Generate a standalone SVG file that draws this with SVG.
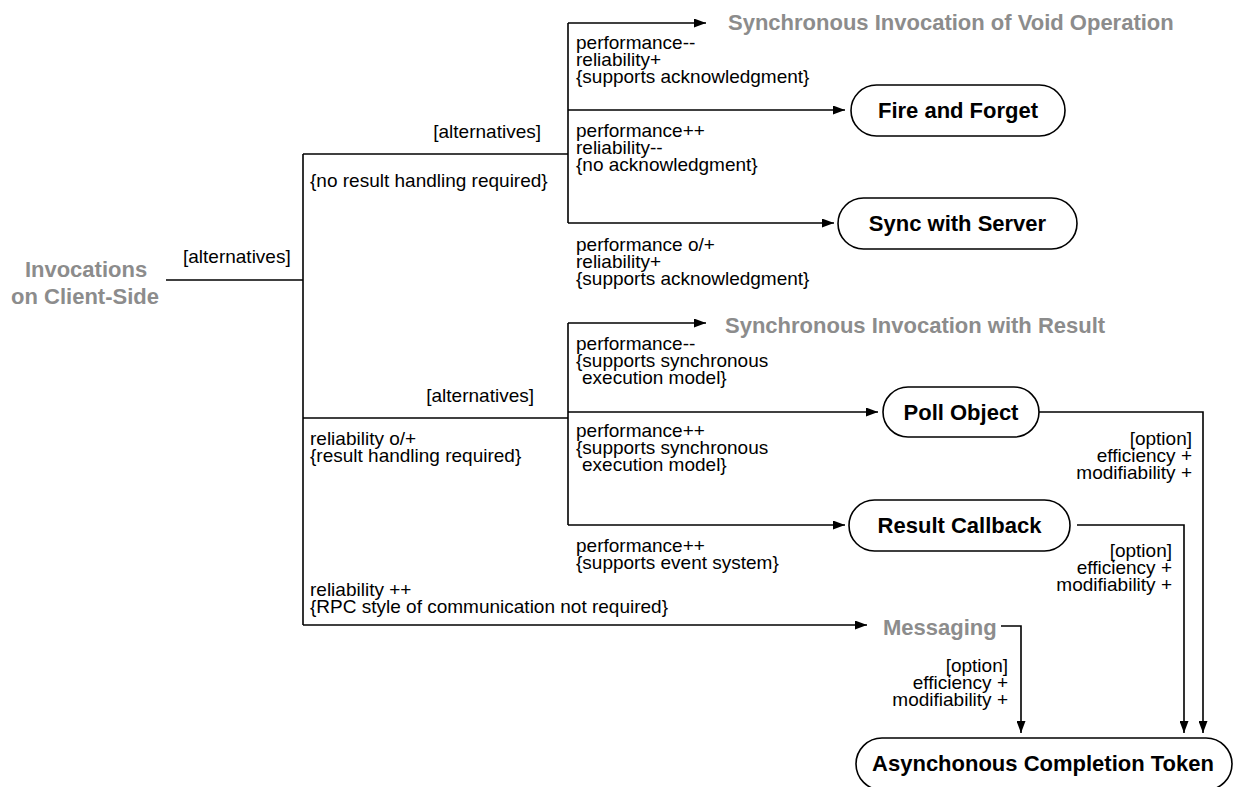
<svg xmlns="http://www.w3.org/2000/svg" width="1234" height="787" viewBox="0 0 1234 787">
  <defs>
    <marker id="arrow" markerUnits="userSpaceOnUse" markerWidth="12" markerHeight="9" refX="12" refY="4.5" orient="auto">
      <path d="M0,0 L12,4.5 L0,9 z" fill="#000"/>
    </marker>
    <style>
      text { font-family: "Liberation Sans", Arial, Helvetica, sans-serif; }
      .lbl { font-size: 19px; fill: #000; }
      .lbl-r { font-size: 19px; fill: #000; text-anchor: end; }
      .node-text { font-size: 22px; font-weight: bold; fill: #000; text-anchor: middle; }
      .ref-text { font-size: 22px; font-weight: bold; fill: #8c8c8c; }
      .box { fill: #fff; stroke: #000; stroke-width: 1.6; }
      .wire { fill: none; stroke: #000; stroke-width: 1.6; }
      .arrowed { marker-end: url(#arrow); }
    </style>
  </defs>
  <rect width="1234" height="787" fill="#fff"/>

  <!-- connectors -->
  <g id="connectors">
    <!-- root to first split -->
    <path class="wire" d="M166,280 H303"/>
    <path class="wire" d="M303,154 V625"/>
    <!-- no result handling branch -->
    <path class="wire" d="M303,154 H568"/>
    <path class="wire" d="M568,23 V223"/>
    <path class="wire arrowed" d="M568,23 H706"/>
    <path class="wire arrowed" d="M568,110 H845"/>
    <path class="wire arrowed" d="M568,223 H834"/>
    <!-- result handling branch -->
    <path class="wire" d="M303,418 H568"/>
    <path class="wire" d="M568,323 V525"/>
    <path class="wire arrowed" d="M568,323 H706"/>
    <path class="wire arrowed" d="M568,412 H878"/>
    <path class="wire arrowed" d="M568,525 H845"/>
    <!-- messaging branch -->
    <path class="wire arrowed" d="M303,625 H867"/>
    <!-- options towards completion token -->
    <path class="wire arrowed" d="M1039,412 H1203 V733"/>
    <path class="wire arrowed" d="M1077,525 H1184 V733"/>
    <path class="wire arrowed" d="M1001,626 H1021 V733"/>
  </g>

  <!-- connector labels -->
  <g id="labels">
    <text class="lbl" x="183" y="263">[alternatives]</text>
    <text class="lbl-r" x="541" y="138">[alternatives]</text>
    <text class="lbl" x="310" y="187">{no result handling required}</text>

    <text class="lbl" x="576" y="49">performance--</text>
    <text class="lbl" x="576" y="66">reliability+</text>
    <text class="lbl" x="576" y="83">{supports acknowledgment}</text>

    <text class="lbl" x="576" y="137">performance++</text>
    <text class="lbl" x="576" y="154">reliability--</text>
    <text class="lbl" x="576" y="171">{no acknowledgment}</text>

    <text class="lbl" x="576" y="251">performance o/+</text>
    <text class="lbl" x="576" y="268">reliability+</text>
    <text class="lbl" x="576" y="285">{supports acknowledgment}</text>

    <text class="lbl-r" x="534" y="402">[alternatives]</text>
    <text class="lbl" x="310" y="445">reliability o/+</text>
    <text class="lbl" x="310" y="462">{result handling required}</text>

    <text class="lbl" x="576" y="350">performance--</text>
    <text class="lbl" x="576" y="367">{supports synchronous</text>
    <text class="lbl" x="582" y="384">execution model}</text>

    <text class="lbl" x="576" y="437">performance++</text>
    <text class="lbl" x="576" y="454">{supports synchronous</text>
    <text class="lbl" x="582" y="471">execution model}</text>

    <text class="lbl" x="576" y="552">performance++</text>
    <text class="lbl" x="576" y="569">{supports event system}</text>

    <text class="lbl" x="310" y="596">reliability ++</text>
    <text class="lbl" x="310" y="613">{RPC style of communication not required}</text>

    <text class="lbl-r" x="1192" y="445">[option]</text>
    <text class="lbl-r" x="1192" y="462">efficiency +</text>
    <text class="lbl-r" x="1192" y="479">modifiability +</text>

    <text class="lbl-r" x="1172" y="557">[option]</text>
    <text class="lbl-r" x="1172" y="574">efficiency +</text>
    <text class="lbl-r" x="1172" y="591">modifiability +</text>

    <text class="lbl-r" x="1008" y="672">[option]</text>
    <text class="lbl-r" x="1008" y="689">efficiency +</text>
    <text class="lbl-r" x="1008" y="706">modifiability +</text>
  </g>

  <!-- nodes -->
  <g id="invocations-client-side">
    <text class="ref-text" x="86" y="277" text-anchor="middle">Invocations</text>
    <text class="ref-text" x="85" y="304" text-anchor="middle">on Client-Side</text>
  </g>

  <g id="sync-invocation-void">
    <text class="ref-text" x="728" y="30">Synchronous Invocation of Void Operation</text>
  </g>

  <g id="fire-and-forget">
    <rect class="box" x="851" y="85" width="214" height="51" rx="25.5"/>
    <text class="node-text" x="958" y="118">Fire and Forget</text>
  </g>

  <g id="sync-with-server">
    <rect class="box" x="838" y="198" width="239" height="51" rx="25.5"/>
    <text class="node-text" x="957.5" y="231">Sync with Server</text>
  </g>

  <g id="sync-invocation-result">
    <text class="ref-text" x="725" y="333">Synchronous Invocation with Result</text>
  </g>

  <g id="poll-object">
    <rect class="box" x="883" y="387" width="156" height="50" rx="25"/>
    <text class="node-text" x="961" y="420">Poll Object</text>
  </g>

  <g id="result-callback">
    <rect class="box" x="849" y="500" width="221" height="51" rx="25.5"/>
    <text class="node-text" x="959.5" y="533">Result Callback</text>
  </g>

  <g id="messaging">
    <text class="ref-text" x="883" y="635">Messaging</text>
  </g>

  <g id="async-completion-token">
    <rect class="box" x="856" y="738" width="376" height="52" rx="26"/>
    <text class="node-text" x="1043" y="771">Asynchonous Completion Token</text>
  </g>
</svg>
